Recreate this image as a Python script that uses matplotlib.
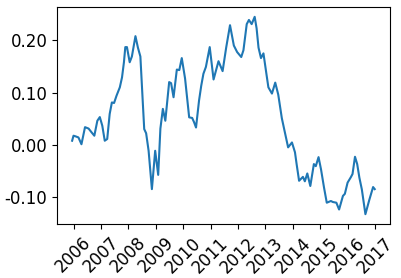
import matplotlib
matplotlib.use("Agg")
import matplotlib.pyplot as plt
from matplotlib.ticker import FuncFormatter

plt.rcParams['axes.unicode_minus'] = False

years = [2005.95, 2006.00, 2006.08, 2006.18, 2006.29, 2006.42, 2006.55, 2006.66, 2006.76, 2006.87,
         2006.96, 2007.05, 2007.14, 2007.23, 2007.32, 2007.40, 2007.48, 2007.57, 2007.69, 2007.77,
         2007.84, 2007.89, 2007.95, 2008.05, 2008.13, 2008.26, 2008.35, 2008.44, 2008.53, 2008.58,
         2008.65, 2008.74, 2008.86, 2008.98, 2009.09, 2009.17, 2009.26, 2009.35, 2009.49, 2009.56,
         2009.65, 2009.77, 2009.86, 2009.95, 2010.07, 2010.22, 2010.33, 2010.40, 2010.47, 2010.58,
         2010.66, 2010.74, 2010.83, 2010.97, 2011.11, 2011.29, 2011.44, 2011.57, 2011.71, 2011.85,
         2011.97, 2012.12, 2012.20, 2012.32, 2012.40, 2012.50, 2012.61, 2012.68, 2012.75, 2012.84,
         2012.93, 2013.04, 2013.11, 2013.24, 2013.36, 2013.47, 2013.60, 2013.69, 2013.83, 2013.97,
         2014.08, 2014.14, 2014.23, 2014.37, 2014.44, 2014.53, 2014.64, 2014.77, 2014.84, 2014.94,
         2015.03, 2015.14, 2015.24, 2015.39, 2015.46, 2015.59, 2015.69, 2015.83, 2015.90, 2016.00,
         2016.12, 2016.18, 2016.27, 2016.35, 2016.43, 2016.52, 2016.65, 2016.79, 2016.93, 2016.99]

values = [0.0077, 0.0173, 0.016, 0.014, 0.001, 0.0337, 0.031, 0.0237, 0.0173, 0.046,
          0.053, 0.0365, 0.0077, 0.011, 0.059, 0.081, 0.080, 0.094, 0.110, 0.129,
          0.158, 0.187, 0.187, 0.158, 0.169, 0.208, 0.186, 0.169, 0.079, 0.030,
          0.022, -0.0115, -0.085, -0.0115, -0.0577, 0.031, 0.0687, 0.046, 0.120, 0.118,
          0.091, 0.144, 0.143, 0.166, 0.127, 0.0525, 0.0513, 0.043, 0.033, 0.0846,
          0.113, 0.136, 0.149, 0.187, 0.125, 0.160, 0.141, 0.186, 0.229, 0.190,
          0.1775, 0.168, 0.181, 0.231, 0.239, 0.231, 0.245, 0.223, 0.186, 0.166,
          0.175, 0.135, 0.110, 0.098, 0.119, 0.096, 0.051, 0.029, -0.005, 0.0044,
          -0.0144, -0.037, -0.069, -0.0615, -0.070, -0.055, -0.079, -0.037, -0.041, -0.0237,
          -0.047, -0.082, -0.111, -0.1077, -0.1096, -0.111, -0.124, -0.098, -0.094, -0.0725,
          -0.062, -0.056, -0.023, -0.037, -0.063, -0.0856, -0.133, -0.106, -0.081, -0.085]

xticks = list(range(2006, 2018))
yticks = [-0.10, 0.00, 0.10, 0.20]

fig = plt.figure(figsize=(4.02, 2.78), dpi=100)
ax = fig.add_axes([0.1418, 0.194, 0.828, 0.781])
ax.plot(years, values, color='#1f77b4', linewidth=1.5)
ax.set_xticks(xticks)
ax.set_xticklabels([str(t) for t in xticks], rotation=45, fontsize=12)
ax.set_yticks(yticks)
ax.yaxis.set_major_formatter(FuncFormatter(lambda v, p: f"{v:.2f}"))
ax.tick_params(axis='y', labelsize=12)
fig.savefig("out.png", dpi=100)
